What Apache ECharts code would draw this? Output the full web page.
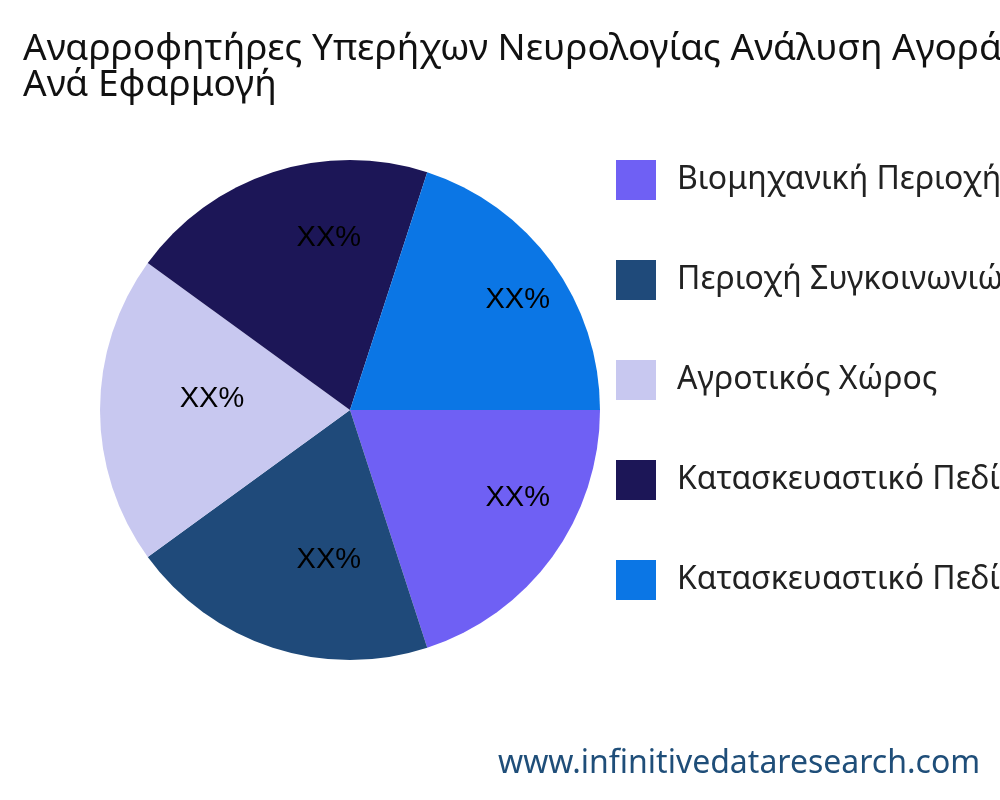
<!DOCTYPE html>
<html><head><meta charset="utf-8">
<script src="https://cdn.jsdelivr.net/npm/echarts@6/dist/echarts.min.js"></script>
<style>html,body{margin:0;padding:0;background:#fff}#c{width:1000px;height:800px}</style>
</head><body><div id="c"></div>
<script>
const categories = ["Βιομηχανική Περιοχή","Περιοχή Συγκοινωνιών","Αγροτικός Χώρος","Κατασκευαστικό Πεδίο","Κατασκευαστικό Πεδίο "];
const values = [20,20,20,20,20];
const labels = ["XX%","XX%","XX%","XX%","XX%"];
const colors = ["#6f60f4","#1f4a7a","#c8c8f0","#1c1657","#0b76e5"];
const chart = echarts.init(document.getElementById('c'));
const data = categories.map((n,i)=>({name:n,value:values[i],itemStyle:{color:colors[i]}}));
chart.setOption({
  animation:false,
  title:{text:"Αναρροφητήρες Υπερήχων Νευρολογίας Ανάλυση Αγοράς\nΑνά Εφαρμογή",left:18,top:26,
    textStyle:{fontFamily:"Noto Sans",fontSize:37,fontWeight:"normal",color:"#111",lineHeight:36}},
  legend:{orient:"vertical",left:611,top:155,itemWidth:40,itemHeight:40,itemGap:60,icon:"rect",
    textStyle:{fontFamily:"Noto Sans",fontSize:32,color:"#222",padding:[0,0,0,16]},data:categories},
  graphic:[{type:"text",left:498,top:748,style:{text:"www.infinitivedataresearch.com",font:"32px 'Noto Sans'",fill:"#1f4e79"}}],
  series:[
    {type:"pie",center:[350,410],radius:[0,250],startAngle:0,clockwise:true,label:{show:false},labelLine:{show:false},data:data},
    {type:"pie",center:[381,399],radius:[82,250],startAngle:0,clockwise:true,silent:true,legendHoverLink:false,
     itemStyle:{color:"rgba(0,0,0,0)"},
     label:{show:true,position:"inside",formatter:p=>labels[p.dataIndex],fontFamily:"Liberation Sans",fontSize:29,color:"#000"},
     data:categories.map((n,i)=>({name:n+"_l",value:values[i]}))}
  ]
});
</script></body></html>
